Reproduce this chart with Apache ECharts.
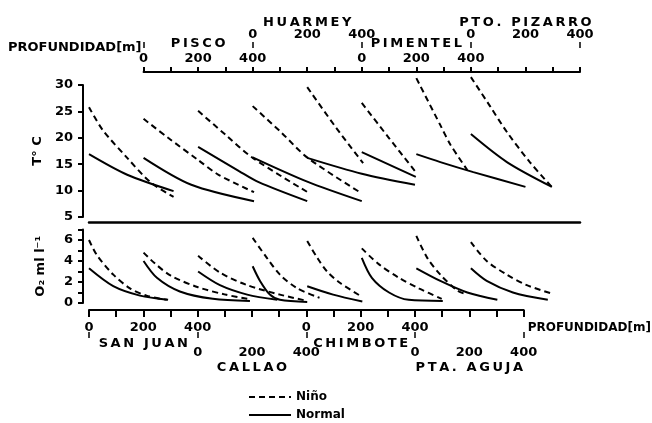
<!DOCTYPE html>
<html><head><meta charset="utf-8">
<script src="https://cdn.jsdelivr.net/npm/echarts@6/dist/echarts.min.js"></script>
<style>html,body{margin:0;padding:0;background:#fff}#c{width:652px;height:423px}</style>
</head><body><div id="c"></div>
<script>
// ---------- DATA ----------
const stations = ['SAN JUAN','PISCO','CALLAO','HUARMEY','CHIMBOTE','PIMENTEL','PTA. AGUJA','PTO. PIZARRO'];
const stationOffset = [0,200,400,600,800,1000,1200,1400]; // m along the shared depth scale

// [depth m, temperature °C]
const tempNino = [
  [[0,25.8],[50,21.5],[140,16.2],[225,11.6],[310,8.8]],
  [[0,23.6],[90,20.0],[200,15.8],[275,13.0],[405,9.7]],
  [[0,25.1],[100,20.6],[200,16.2],[405,9.6]],
  [[0,26.0],[103,21.1],[202,16.2],[396,9.6]],
  [[0,29.6],[106,21.9],[205,15.2]],
  [[0,26.6],[99,20.0],[198,13.5]],
  [[0,31.3],[88,22.4],[125,18.7],[187,13.9]],
  [[0,31.5],[70,26.0],[132,21.1],[216,15.4],[300,10.5]]
];
const tempNormal = [
  [[0,16.9],[140,13.0],[310,9.9]],
  [[0,16.2],[175,11.1],[405,8.0]],
  [[0,18.3],[150,13.7],[222,11.6],[400,8.0]],
  [[0,16.3],[200,11.7],[400,8.0]],
  [[0,16.2],[200,13.2],[395,11.1]],
  [[0,17.3],[198,12.6]],
  [[0,16.9],[88,15.4],[209,13.5],[400,10.7]],
  [[0,20.7],[132,15.4],[297,10.7]]
];
// [depth m, O2 ml/l]
const o2Nino = [
  [[0,6.0],[28,4.6],[89,2.7],[150,1.4],[211,0.7],[285,0.3]],
  [[0,4.8],[40,3.8],[100,2.6],[200,1.5],[300,0.8],[390,0.35]],
  [[0,4.5],[80,2.9],[180,1.7],[300,0.8],[400,0.2]],
  [[0,6.2],[52,4.3],[100,2.7],[163,1.4],[245,0.5]],
  [[0,5.9],[37,4.3],[73,3.0],[121,1.9],[200,0.6]],
  [[0,5.2],[62,3.7],[136,2.4],[209,1.4],[293,0.4]],
  [[0,6.4],[40,4.3],[88,2.7],[150,1.2],[187,0.8]],
  [[0,5.8],[58,4.0],[132,2.7],[205,1.7],[297,0.9]]
];
const o2Normal = [
  [[0,3.3],[89,1.6],[187,0.7],[290,0.3]],
  [[0,4.0],[49,2.4],[133,1.1],[254,0.4],[390,0.2]],
  [[0,3.0],[80,1.7],[180,0.8],[290,0.3]],
  [[0,3.5],[27,2.1],[63,0.8],[100,0.3],[200,0.1]],
  [[0,1.6],[95,0.8],[202,0.15]],
  [[0,4.3],[37,2.4],[100,1.0],[172,0.3],[297,0.2]],
  [[0,3.3],[88,2.1],[187,1.0],[297,0.3]],
  [[0,3.3],[58,2.1],[154,1.0],[282,0.3]]
];

// axis tick labels
const tempTicks = [5,10,15,20,25,30];
const o2Labels = [0,2,4,6];
const topLowerVals = [200,400,600,1000,1200,1400];
const topLowerText = ['0','200','400','0','200','400'];
const topUpperVals = [600,800,1000,1400,1600,1800];
const topUpperText = ['0','200','400','0','200','400'];
const topJoinVals = [200,600,1000,1400,1800];
const topNameVals = [400,1200];  const topNameText = ['PISCO','PIMENTEL'];
const topName2Vals = [800,1600]; const topName2Text = ['HUARMEY','PTO. PIZARRO'];
const botUpperVals = [0,200,400,800,1000,1200];
const botUpperText = ['0','200','400','0','200','400'];
const botLowerVals = [400,600,800,1200,1400,1600];
const botLowerText = ['0','200','400','0','200','400'];
const botJoinVals = [0,400,800,1200,1600];
const botNameVals = [200,1000];  const botNameText = ['SAN JUAN','CHIMBOTE'];
const botName2Vals = [600,1400]; const botName2Text = ['CALLAO','PTA. AGUJA'];

// ---------- CHART ----------
const F = 'DejaVu Sans';
const txt = {fontFamily:F, fontWeight:'bold', color:'#000'};
const spaced = s => s.split('').join('\u2009');
const X0 = 89, XW = 491, XMAX = 1800;
const pxPerM = XW / XMAX;

const grids = [
  {left:X0, width:XW, top:85, height:132},          // temperature
  {left:X0, width:XW, top:229.5, height:73.5},      // oxygen
  {left:X0 + 200*pxPerM, width:1600*pxPerM, top:72, height:1},  // top depth axis
  {left:X0, width:1600*pxPerM, top:309, height:1}   // bottom depth axis
];

function labelAxis(gridIndex, position, min, max, vals, texts, margin, fontSize, spacedText) {
  return {
    type:'value', gridIndex, position, min, max,
    axisLine:{show:false, onZero:false}, axisTick:{show:false}, splitLine:{show:false},
    axisLabel:{show:true, customValues: vals, margin, fontSize, ...txt,
      formatter: v => { const i = vals.indexOf(v); if (i < 0) return ''; return spacedText ? spaced(texts[i]) : texts[i]; }}
  };
}

const xAxes = [
  // 0: temperature grid x (separator line)
  {type:'value', gridIndex:0, min:0, max:XMAX, position:'bottom', offset:5,
   axisLine:{show:true, onZero:false, lineStyle:{color:'#000', width:2.5}},
   axisTick:{show:false}, axisLabel:{show:false}, splitLine:{show:false}},
  // 1: oxygen grid x
  {type:'value', gridIndex:1, min:0, max:XMAX, show:false},
  // 2: top axis line + lower numbers
  {type:'value', gridIndex:2, position:'top', min:200, max:1800, interval:100,
   axisLine:{show:true, onZero:false, lineStyle:{color:'#000', width:2}},
   axisTick:{show:true, length:5, lineStyle:{color:'#000', width:2}},
   splitLine:{show:false},
   axisLabel:{customValues: topLowerVals, margin:7, fontSize:13, ...txt,
     formatter: v => topLowerText[topLowerVals.indexOf(v)] ?? ''}},
  // 3: top connectors + axis name
  {type:'value', gridIndex:2, position:'top', min:200, max:1800, offset:24,
   axisLine:{show:false, onZero:false},
   axisTick:{show:true, customValues: topJoinVals, length:6, lineStyle:{color:'#000', width:1.5}},
   axisLabel:{show:false}, splitLine:{show:false},
   name:'PROFUNDIDAD[m]', nameLocation:'start', nameGap:2,
   nameTextStyle:{...txt, fontSize:13, verticalAlign:'middle'}},
  // 4: top station names (lower)
  labelAxis(2, 'top', 200, 1800, topNameVals, topNameText, 22, 13, true),
  // 5: top upper numbers
  labelAxis(2, 'top', 200, 1800, topUpperVals, topUpperText, 31, 13, false),
  // 6: top station names (upper)
  labelAxis(2, 'top', 200, 1800, topName2Vals, topName2Text, 43, 13, true),
  // 7: bottom axis line + upper numbers
  {type:'value', gridIndex:3, position:'bottom', min:0, max:1600, interval:100,
   axisLine:{show:true, onZero:false, lineStyle:{color:'#000', width:2}},
   axisTick:{show:true, length:7, lineStyle:{color:'#000', width:2}},
   splitLine:{show:false},
   axisLabel:{customValues: botUpperVals, margin:11, fontSize:13, ...txt,
     formatter: v => botUpperText[botUpperVals.indexOf(v)] ?? ''}},
  // 8: bottom axis name
  {type:'value', gridIndex:3, position:'bottom', min:0, max:1600, offset:18,
   axisLine:{show:false, onZero:false}, axisTick:{show:false}, axisLabel:{show:false}, splitLine:{show:false},
   name:'PROFUNDIDAD[m]', nameLocation:'end', nameGap:4,
   nameTextStyle:{...txt, fontSize:12, verticalAlign:'middle'}},
  // 9: bottom connectors
  {type:'value', gridIndex:3, position:'bottom', min:0, max:1600, offset:22,
   axisLine:{show:false, onZero:false},
   axisTick:{show:true, customValues: botJoinVals, length:6, lineStyle:{color:'#000', width:1.5}},
   axisLabel:{show:false}, splitLine:{show:false}},
  // 10: bottom station names (upper)
  labelAxis(3, 'bottom', 0, 1600, botNameVals, botNameText, 27, 13, true),
  // 11: bottom lower numbers
  labelAxis(3, 'bottom', 0, 1600, botLowerVals, botLowerText, 36, 13, false),
  // 12: bottom station names (lower)
  labelAxis(3, 'bottom', 0, 1600, botName2Vals, botName2Text, 51, 13, true)
];

const yAxes = [
  {type:'value', gridIndex:0, min:5, max:30, interval:5, offset:6,
   axisLine:{show:true, onZero:false, lineStyle:{color:'#000', width:2}},
   axisTick:{show:true, length:5, lineStyle:{color:'#000', width:2}},
   axisLabel:{margin:10, fontSize:13, ...txt, customValues: tempTicks},
   splitLine:{show:false},
   name:'T° C', nameLocation:'middle', nameGap:36, nameRotate:90,
   nameTextStyle:{...txt, fontSize:13}},
  {type:'value', gridIndex:1, min:0, max:7, interval:1, offset:6,
   axisLine:{show:true, onZero:false, lineStyle:{color:'#000', width:2}},
   axisTick:{show:true, length:5, lineStyle:{color:'#000', width:2}},
   axisLabel:{margin:10, fontSize:13, ...txt, formatter: v => o2Labels.includes(v) ? String(v) : ''},
   splitLine:{show:false},
   name:'O₂ ml l⁻¹', nameLocation:'middle', nameGap:36, nameRotate:90,
   nameTextStyle:{...txt, fontSize:13}},
  {type:'value', gridIndex:2, show:false},
  {type:'value', gridIndex:3, show:false}
];

const series = [];
function addProfiles(profiles, name, dashed, axisIdx) {
  profiles.forEach((p, i) => {
    series.push({
      type:'line', name, xAxisIndex:axisIdx, yAxisIndex:axisIdx,
      data: p.map(([d, v]) => [stationOffset[i] + d, v]),
      symbol:'none', smooth:0.3, clip:false, silent:true, animation:false,
      lineStyle:{color:'#000', width:2, type: dashed ? [6,4] : 'solid'},
      itemStyle:{color:'#000'}
    });
  });
}
addProfiles(tempNino, 'Niño', true, 0);
addProfiles(tempNormal, 'Normal', false, 0);
addProfiles(o2Nino, 'Niño', true, 1);
addProfiles(o2Normal, 'Normal', false, 1);

const chart = echarts.init(document.getElementById('c'), null, {renderer:'canvas'});
chart.setOption({
  backgroundColor:'#fff',
  animation:false,
  grid: grids,
  xAxis: xAxes,
  yAxis: yAxes,
  legend:{data:['Niño','Normal'], orient:'vertical', left:248, top:391, padding:0,
    itemWidth:42, itemHeight:12, itemGap:6,
    itemStyle:{opacity:0},
    textStyle:{fontFamily:F, fontWeight:'bold', fontSize:12, color:'#000'}, selectedMode:false},
  series
});
</script></body></html>
